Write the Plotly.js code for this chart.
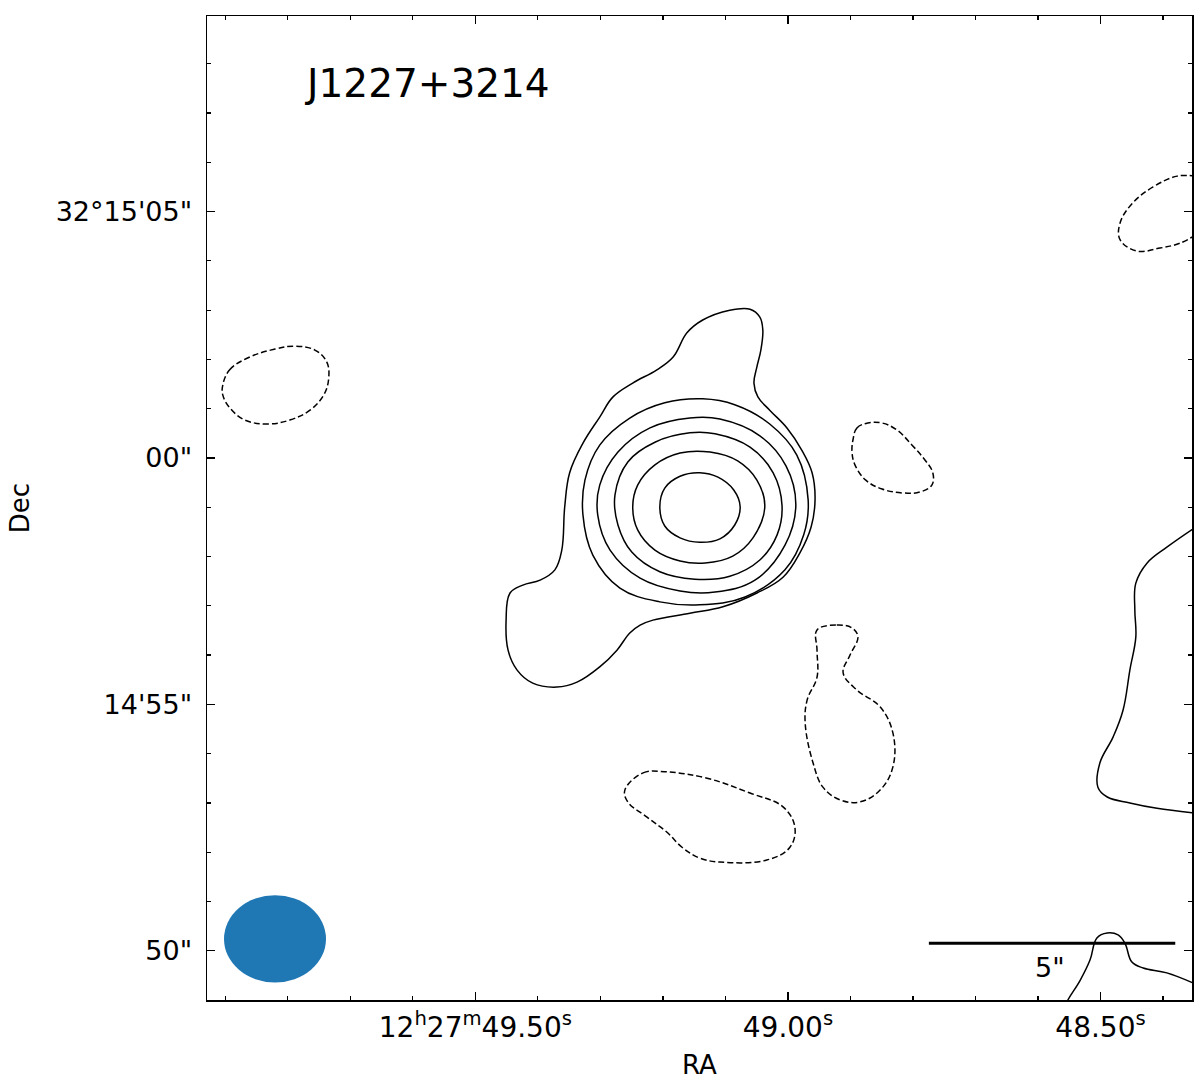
<!DOCTYPE html>
<html>
<head>
<meta charset="utf-8">
<script src="https://cdn.plot.ly/plotly-3.0.1.min.js"></script>
<style>
  html, body { margin: 0; padding: 0; background: #fff; }
  #plot { width: 1200px; height: 1085px; }
</style>
</head>
<body>
<div id="plot"></div>
<script>
// ── J1227+3214 radio contour map ──────────────────────────────────────────────
// Offsets in arcsec from RA 12h27m49.00s, Dec +32°15'00" (x grows westward).

// ── Axis ticks ───────────────────────────────────────────────────────────────
const RA_SEC = 12.687;                       // arcsec per second of RA at this Dec
const raTickVals = [-0.5 * RA_SEC, 0, 0.5 * RA_SEC];
const raTickText = ['12<sup>h</sup>27<sup>m</sup>49.50<sup>s</sup>', '49.00<sup>s</sup>', '48.50<sup>s</sup>'];
const decTickVals = [5, 0, -5, -10];
const decTickText = ['32°15\'05"', '00"', '14\'55"', '50"'];

// ── Positive contours (solid) ────────────────────────────────────────────────
const level1 = [[-0.57,2.86],[-0.51,2.60],[-0.55,2.19],[-0.63,1.85],[-0.69,1.52],[-0.61,1.24],[-0.37,0.97],
  [-0.02,0.61],[0.28,0.16],[0.49,-0.30],[0.55,-0.85],[0.47,-1.40],[0.24,-1.93],[-0.10,-2.42],[-0.63,-2.74],
  [-1.32,-3.02],[-1.99,-3.15],[-2.74,-3.29],[-3.00,-3.39],[-3.21,-3.55],[-3.47,-3.90],[-3.82,-4.24],
  [-4.28,-4.55],[-4.69,-4.65],[-5.18,-4.57],[-5.50,-4.30],[-5.68,-3.90],[-5.72,-3.29],[-5.64,-2.74],
  [-5.38,-2.58],[-5.03,-2.48],[-4.73,-2.27],[-4.59,-1.87],[-4.53,-0.99],[-4.43,-0.30],[-4.16,0.30],
  [-3.82,0.83],[-3.55,1.24],[-3.15,1.52],[-2.66,1.79],[-2.33,2.05],[-2.05,2.54],[-1.73,2.80],
  [-1.18,3.00],[-0.77,3.02]];
const level2 = [[0.41,-0.85],[0.18,0.06],[-0.37,0.69],[-1.08,1.08],[-1.73,1.20],[-2.50,1.12],[-3.21,0.81],
  [-3.82,0.26],[-4.12,-0.45],[-4.16,-1.16],[-3.96,-1.97],[-3.41,-2.64],[-2.60,-2.92],[-1.79,-2.98],
  [-0.87,-2.82],[-0.06,-2.27],[0.32,-1.56]];
const level3 = [[0.16,-0.95],[-0.04,-0.16],[-0.57,0.45],[-1.38,0.79],[-1.99,0.81],[-2.80,0.61],[-3.45,0.12],
  [-3.82,-0.55],[-3.86,-1.16],[-3.61,-1.87],[-3.00,-2.44],[-2.19,-2.70],[-1.48,-2.72],[-0.67,-2.48],
  [-0.06,-1.77]];
const level4 = [[-0.12,-0.97],[-0.30,-0.30],[-0.77,0.22],[-1.48,0.49],[-1.99,0.51],[-2.70,0.32],[-3.25,-0.08],
  [-3.51,-0.75],[-3.45,-1.36],[-3.17,-1.91],[-2.60,-2.31],[-1.89,-2.46],[-1.18,-2.40],[-0.57,-2.07],
  [-0.22,-1.56]];
const level5 = [[-0.47,-0.99],[-0.63,-0.45],[-1.02,-0.06],[-1.58,0.12],[-2.19,0.10],[-2.70,-0.14],[-3.05,-0.55],
  [-3.15,-0.99],[-3.05,-1.46],[-2.70,-1.87],[-2.19,-2.09],[-1.68,-2.13],[-1.12,-1.99],[-0.71,-1.62]];
const level6 = [[-0.97,-0.99],[-1.10,-0.65],[-1.42,-0.39],[-1.79,-0.30],[-2.19,-0.37],[-2.50,-0.61],
  [-2.60,-0.99],[-2.50,-1.38],[-2.19,-1.62],[-1.79,-1.71],[-1.38,-1.64],[-1.08,-1.36]];
const eastEdge = [[8.28,-1.40],[7.69,-1.81],[7.29,-2.13],[7.06,-2.54],[7.04,-3.09],[7.06,-3.63],[6.94,-4.30],
  [6.80,-5.12],[6.60,-5.66],[6.33,-6.19],[6.29,-6.68],[6.48,-6.88],[6.94,-7.00],[7.49,-7.11],[8.28,-7.21]];
const cornerSE = [[5.52,-11.31],[5.68,-11.00],[5.93,-10.60],[6.13,-10.19],[6.27,-9.74],[6.48,-9.64],
  [6.70,-9.68],[6.84,-9.85],[6.98,-10.23],[7.21,-10.35],[7.69,-10.45],[8.28,-10.68]];

// ── Negative contours (dashed) ───────────────────────────────────────────────
const negWest = [[-11.47,1.48],[-11.33,1.79],[-10.92,2.05],[-10.41,2.21],[-10.01,2.27],[-9.60,2.19],
  [-9.36,1.95],[-9.32,1.62],[-9.42,1.28],[-9.70,0.97],[-10.11,0.77],[-10.56,0.69],[-11.02,0.77],
  [-11.33,1.02],[-11.47,1.28]];
const negNear = [[1.32,0.37],[1.40,0.61],[1.62,0.71],[1.91,0.71],[2.21,0.57],[2.52,0.26],[2.78,-0.04],
  [2.94,-0.30],[2.92,-0.55],[2.68,-0.69],[2.33,-0.71],[1.91,-0.63],[1.58,-0.45],[1.36,-0.14],[1.30,0.12]];
const negBottle = [[0.59,-3.49],[0.99,-3.39],[1.30,-3.45],[1.42,-3.63],[1.26,-4.00],[1.12,-4.36],[1.40,-4.71],
  [1.87,-5.05],[2.13,-5.58],[2.13,-6.27],[1.87,-6.74],[1.46,-6.98],[1.06,-6.94],[0.71,-6.68],[0.51,-6.19],
  [0.35,-5.38],[0.39,-4.91],[0.59,-4.45],[0.59,-3.90]];
const negSouth = [[-3.31,-6.74],[-2.94,-6.39],[-2.46,-6.37],[-1.64,-6.50],[-0.77,-6.80],[-0.10,-7.08],
  [0.14,-7.49],[0.04,-7.90],[-0.43,-8.16],[-1.38,-8.20],[-1.79,-8.12],[-2.15,-7.90],[-2.46,-7.59],
  [-2.86,-7.29],[-3.25,-6.98]];
const negNE = [[8.28,5.72],[7.90,5.72],[7.41,5.50],[7.00,5.18],[6.74,4.77],[6.74,4.43],[7.08,4.20],
  [7.55,4.26],[7.96,4.36],[8.28,4.53]];

// ── Beam and scale bar (arcsec) ──────────────────────────────────────────────
const beamCenter = [-10.41, -9.76];
const beamSize = [2.07, 1.77];
const scaleStart = [2.86, -9.85];
const scaleLen = 5;

const closedPos = [level1, level2, level3, level4, level5, level6];
const openPos = [eastEdge, cornerSE];
const closedNeg = [negWest, negNear, negBottle, negSouth];
const openNeg = [negNE];

function contourTrace(pts, closed, dashed) {
  const p = closed ? pts.concat([pts[0]]) : pts;
  return {
    x: p.map(d => d[0]),
    y: p.map(d => d[1]),
    mode: 'lines',
    line: { color: '#000', width: 1.5, shape: 'spline', smoothing: 1.1, dash: dashed ? '6px,3px' : 'solid' },
    hoverinfo: 'skip',
    showlegend: false
  };
}

const traces = [];
closedPos.forEach(c => traces.push(contourTrace(c, true, false)));
openPos.forEach(c => traces.push(contourTrace(c, false, false)));
closedNeg.forEach(c => traces.push(contourTrace(c, true, true)));
openNeg.forEach(c => traces.push(contourTrace(c, false, true)));

const FONT = 'DejaVu Sans, Liberation Sans, sans-serif';

const axisCommon = {
  showgrid: false, zeroline: false,
  showline: true, linecolor: '#000', linewidth: 1.5, mirror: 'allticks',
  ticks: 'inside', ticklen: 8, tickwidth: 1.3, tickcolor: '#000',
  tickmode: 'array'
};

const layout = {
  width: 1200, height: 1085,
  paper_bgcolor: '#fff', plot_bgcolor: '#fff',
  margin: { l: 207, r: 8, t: 16, b: 85 },
  font: { family: FONT, color: '#000' },
  xaxis: Object.assign({}, axisCommon, {
    range: [-11.79, 8.20],
    tickvals: raTickVals, ticktext: raTickText,
    tickfont: { family: FONT, size: 28, color: '#000' },
    ticklabelstandoff: 2,
    minor: { ticks: 'inside', ticklen: 4, tickwidth: 1.2, tickcolor: '#000', tick0: 0, dtick: RA_SEC / 10, showgrid: false },
    title: { text: 'RA', font: { family: FONT, size: 26, color: '#000' }, standoff: 12 }
  }),
  yaxis: Object.assign({}, axisCommon, {
    range: [-11.0, 8.97],
    tickvals: decTickVals, ticktext: decTickText,
    tickfont: { family: FONT, size: 27, color: '#000' },
    ticklabelstandoff: 8,
    minor: { ticks: 'inside', ticklen: 4, tickwidth: 1.2, tickcolor: '#000', tick0: 0, dtick: 1, showgrid: false },
    title: { text: 'Dec', font: { family: FONT, size: 26, color: '#000' }, standoff: 18 }
  }),
  shapes: [
    {
      type: 'circle', xref: 'x', yref: 'y',
      x0: beamCenter[0] - beamSize[0] / 2, x1: beamCenter[0] + beamSize[0] / 2,
      y0: beamCenter[1] - beamSize[1] / 2, y1: beamCenter[1] + beamSize[1] / 2,
      fillcolor: '#1f77b4', line: { width: 0 }
    },
    {
      type: 'line', xref: 'x', yref: 'y',
      x0: scaleStart[0], x1: scaleStart[0] + scaleLen,
      y0: scaleStart[1], y1: scaleStart[1],
      line: { color: '#000', width: 3 }
    }
  ],
  annotations: [
    {
      xref: 'paper', yref: 'paper', x: 0.223, y: 0.931,
      text: 'J1227+3214', showarrow: false, xanchor: 'center', yanchor: 'middle',
      font: { family: FONT, size: 39, color: '#000' }
    },
    {
      xref: 'x', yref: 'y', x: scaleStart[0] + scaleLen / 2 - 0.05, y: scaleStart[1] - 0.5,
      text: scaleLen + '"', showarrow: false, xanchor: 'center', yanchor: 'middle',
      font: { family: FONT, size: 27, color: '#000' }
    }
  ]
};

Plotly.newPlot('plot', traces, layout, { displayModeBar: false, staticPlot: true });
</script>
</body>
</html>
